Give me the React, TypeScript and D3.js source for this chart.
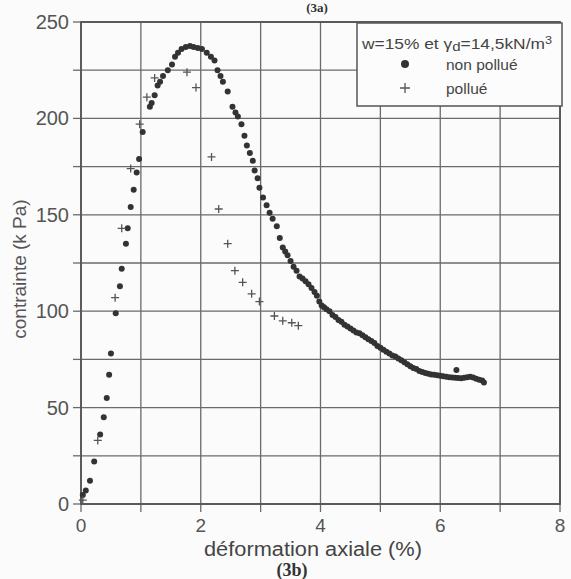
import React from "react";
import * as d3 from "d3";

const xTicks = [0, 2, 4, 6, 8];
const xMinor = [0, 1, 2, 3, 4, 5, 6, 7, 8];
const yTicks = [0, 50, 100, 150, 200, 250];
const yMinor = [0, 25, 50, 75, 100, 125, 150, 175, 200, 225, 250];

const nonPollueX = [0.03, 0.08, 0.15, 0.22, 0.32, 0.38, 0.43, 0.47, 0.5, 0.58, 0.65, 0.68, 0.75, 0.78, 0.83, 0.88, 0.93, 0.97, 1.03, 1.15, 1.18, 1.23, 1.28, 1.32, 1.37, 1.45, 1.52, 1.57, 1.62, 1.68, 1.75, 1.82, 1.88, 1.95, 2.02, 2.1, 2.17, 2.23, 2.28, 2.33, 2.37, 2.45, 2.53, 2.58, 2.62, 2.68, 2.73, 2.77, 2.82, 2.87, 2.9, 2.95, 2.98, 3.04, 3.1, 3.15, 3.2, 3.27, 3.32, 3.37, 3.41,
  3.45, 3.5, 3.55, 3.6, 3.65, 3.7, 3.75, 3.8, 3.85, 3.9, 3.94, 3.98, 4.02, 4.06, 4.1, 4.15, 4.2, 4.25, 4.3, 4.35, 4.4, 4.45, 4.5, 4.55, 4.6, 4.65, 4.7, 4.75, 4.8, 4.85, 4.9, 4.95, 5.0, 5.05, 5.1, 5.15, 5.2, 5.25, 5.3, 5.35, 5.4, 5.45, 5.5, 5.55, 5.6, 5.65, 5.7, 5.75, 5.8, 5.85, 5.9, 5.95, 6.0, 6.05, 6.1, 6.15, 6.2, 6.25, 6.3, 6.35, 6.4, 6.45, 6.5, 6.55, 6.6, 6.65, 6.7, 6.73, 6.27];
const nonPollueY = [4.7, 7, 12, 22, 36, 45, 55, 67, 78, 99, 113, 122, 135, 143, 154, 163, 172, 179, 193, 206, 208, 212, 217, 219, 222, 225, 228, 232, 234, 236, 237, 237.5, 237, 236.5, 236, 234, 232, 230, 225, 222, 219, 214, 206, 203, 201, 197, 191, 186, 182, 178, 173, 169, 164, 159, 155, 151, 148, 144, 138, 133, 131,
  129, 126, 123, 121, 118, 117, 115.5, 114, 112, 110, 108, 105, 103, 102, 101, 100, 98, 97, 95.5, 94.5, 93, 92, 91, 90, 89, 88.5, 87.5, 86.5, 85.5, 84.5, 83.5, 82, 81, 80, 79, 78, 77, 76.5, 75.5, 74.5, 73.5, 72.5, 71.5, 70.5, 70, 69, 68.5, 68, 67.5, 67.2, 67, 66.8, 66.5, 66.3, 66, 65.8, 65.6, 65.5, 65.3, 65.2, 65.5, 65.8, 66, 65.6, 65, 64.5, 64, 63, 69.5];

const pollueX = [0.03, 0.28, 0.57, 0.68, 0.83, 0.98, 1.1, 1.23, 1.77, 1.92, 2.18, 2.3, 2.45, 2.57, 2.7, 2.85, 2.98, 3.23, 3.37, 3.52, 3.63];
const pollueY = [2, 33, 107, 143, 174, 197, 211, 221, 224, 216, 180, 153, 135, 121, 115, 109, 105, 97.5, 95, 94, 92.5];

const W = 571, H = 579;
const left = 81, right = 560, top = 22, bottom = 504;

export default function App() {
  const x = d3.scaleLinear().domain([0, 8]).range([left, right]);
  const y = d3.scaleLinear().domain([0, 250]).range([bottom, top]);
  const grid = "#6a6a6a";
  const txt = "#555";
  const font = "Liberation Sans, Arial, sans-serif";
  const plus = 4;
  return (
    <svg width={W} height={H} style={{ position: "absolute", left: 0, top: 0, background: "#fbfbfb" }}>
      <rect x={0} y={0} width={W} height={H} fill="#fbfbfb" />
      <text x={317} y={12} textAnchor="middle" fontFamily="Liberation Serif, serif" fontWeight="bold" fontSize={13} fill="#333">(3a)</text>
      {yMinor.map((v) => (
        <line key={"gy" + v} x1={left} x2={right} y1={y(v)} y2={y(v)} stroke={grid} strokeWidth={1.3} />
      ))}
      {xMinor.map((v) => (
        <line key={"gx" + v} x1={x(v)} x2={x(v)} y1={top} y2={bottom} stroke={grid} strokeWidth={1.3} />
      ))}
      {yMinor.map((v) => (
        <line key={"ty" + v} x1={left - 8} x2={left} y1={y(v)} y2={y(v)} stroke={grid} strokeWidth={1.3} />
      ))}
      {xMinor.map((v) => (
        <line key={"tx" + v} x1={x(v)} x2={x(v)} y1={bottom} y2={bottom + 8} stroke={grid} strokeWidth={1.3} />
      ))}
      <rect x={left} y={top} width={right - left} height={bottom - top} fill="none" stroke="#555" strokeWidth={1.8} />
      {yTicks.map((v) => (
        <text key={"ly" + v} x={left - 12} y={y(v)} dy="0.35em" textAnchor="end" fontFamily={font} fontSize={20} fill={txt}>{v}</text>
      ))}
      {xTicks.map((v) => (
        <text key={"lx" + v} x={x(v)} y={532} textAnchor="middle" fontFamily={font} fontSize={19} fill={txt}>{v}</text>
      ))}
      <text x={313} y={556} textAnchor="middle" fontFamily={font} fontSize={19.5} fill="#444" textLength={218} lengthAdjust="spacingAndGlyphs">déformation axiale (%)</text>
      <text x={292} y={576} textAnchor="middle" fontFamily="Liberation Serif, serif" fontWeight="bold" fontSize={18} fill="#333">(3b)</text>
      <text transform={`translate(26,${y(125) + 6}) rotate(-90)`} textAnchor="middle" fontFamily={font} fontSize={19} fill={txt}>contrainte (k Pa)</text>
      {nonPollueX.map((v, i) => (
        <circle key={"d" + i} cx={x(v)} cy={y(nonPollueY[i])} r={3} fill="#333" />
      ))}
      {pollueX.map((v, i) => (
        <path key={"p" + i} d={`M${x(v) - plus},${y(pollueY[i])}h${2 * plus}M${x(v)},${y(pollueY[i]) - plus}v${2 * plus}`} stroke="#555" strokeWidth={1.3} />
      ))}
      <rect x={357} y={23} width={205} height={83} fill="#fcfcfc" stroke="#555" strokeWidth={1.5} />
      <text x={362} y={49} fontFamily={font} fontSize={15} fill="#444" textLength={190} lengthAdjust="spacingAndGlyphs">
        w=15% et γ<tspan fontSize={13} dy={2}>d</tspan><tspan dy={-2}>=14,5kN/m</tspan><tspan fontSize={11} dy={-5}>3</tspan>
      </text>
      <circle cx={405} cy={64} r={4} fill="#333" />
      <text x={446} y={70} fontFamily={font} fontSize={15.5} fill="#444">non pollué</text>
      <path d={`M${405 - plus - 1},88h${2 * plus + 2}M405,${88 - plus - 1}v${2 * plus + 2}`} stroke="#555" strokeWidth={1.3} />
      <text x={446} y={94} fontFamily={font} fontSize={15.5} fill="#444">pollué</text>
    </svg>
  );
}
